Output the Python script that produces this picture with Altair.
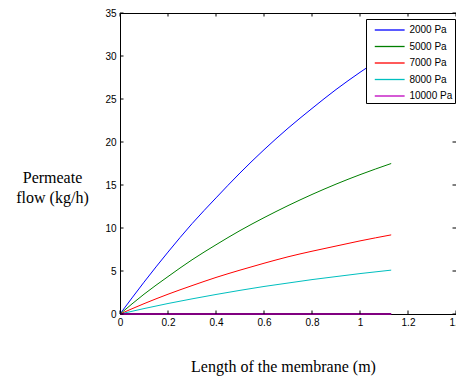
import altair as alt
import pandas as pd

# ---- data ----
length_m = [0, 0.1, 0.2, 0.3, 0.4, 0.5, 0.6, 0.7, 0.8, 0.9, 1.0, 1.13]
series_names = ["2000 Pa", "5000 Pa", "7000 Pa", "8000 Pa", "10000 Pa"]
flow_2000 = [0, 3.7, 7.2, 10.5, 13.5, 16.4, 19.1, 21.6, 23.9, 26.1, 28.1, 30.5]
flow_5000 = [0, 2.3, 4.35, 6.3, 8.05, 9.7, 11.2, 12.6, 13.9, 15.1, 16.2, 17.5]
flow_7000 = [0, 1.2, 2.3, 3.3, 4.25, 5.1, 5.9, 6.65, 7.3, 7.9, 8.5, 9.2]
flow_8000 = [0, 0.63, 1.22, 1.76, 2.27, 2.75, 3.2, 3.6, 4.0, 4.35, 4.7, 5.1]
flow_10000 = [0, 0, 0, 0, 0, 0, 0, 0, 0, 0, 0, 0]
colors = ["#0000FF", "#007F00", "#FF0000", "#00BFBF", "#BF00BF"]
x_ticks = [0, 0.2, 0.4, 0.6, 0.8, 1.0, 1.2, 1.4]
y_ticks = [0, 5, 10, 15, 20, 25, 30, 35]

rows = []
for name, vals in zip(series_names, [flow_2000, flow_5000, flow_7000, flow_8000, flow_10000]):
    for xv, yv in zip(length_m, vals):
        rows.append({"length": xv, "flow": yv, "series": name})
df = pd.DataFrame(rows)
xt = pd.DataFrame({"t": x_ticks})
yt = pd.DataFrame({"t": y_ticks})

W, H = 336, 301
xscale = alt.Scale(domain=[0, 1.4], nice=False, zero=False)
yscale = alt.Scale(domain=[0, 35], nice=False)

x_axis = alt.Axis(
    values=x_ticks, format="~g", ticks=False, grid=False, labelFlush=False, labelOverlap=False,
    labelPadding=3, labelFont="Liberation Sans", labelFontSize=10, labelColor="black",
    domainColor="black", domainWidth=1,
    title="Length of the membrane (m)", titleFont="Liberation Serif", titleFontSize=16,
    titleFontWeight="normal", titleColor="black", titleX=163, titleY=57,
    titleAlign="center", titleBaseline="alphabetic",
)
y_axis = alt.Axis(
    values=y_ticks, ticks=False, grid=False, labelFlush=False, labelOverlap=False,
    labelPadding=4, labelFont="Liberation Sans", labelFontSize=10, labelColor="black",
    domainColor="black", domainWidth=1,
    title=["Permeate", "flow (kg/h)"], titleFont="Liberation Serif", titleFontSize=16,
    titleFontWeight="normal", titleColor="black", titleAngle=0, titleX=-68, titleY=169,
    titleAlign="center", titleBaseline="alphabetic", titleLineHeight=20,
)

legend = alt.Legend(
    title=None, orient="none", legendX=246, legendY=6,
    strokeColor="black", fillColor="white", padding=2, rowPadding=2.5,
    symbolType="M-1.8,0H1.8", symbolSize=275, symbolStrokeWidth=1.3, symbolOffset=12.7,
    labelOffset=10.7, labelFont="Liberation Sans", labelFontSize=10, labelColor="black",
)

lines = alt.Chart(df).mark_line(strokeWidth=1, interpolate="monotone").encode(
    x=alt.X("length:Q", scale=xscale, axis=x_axis),
    y=alt.Y("flow:Q", scale=yscale, axis=y_axis),
    color=alt.Color("series:N", scale=alt.Scale(domain=series_names, range=colors), legend=legend),
)

base_line = alt.Chart(df).transform_filter(alt.datum.series == "10000 Pa").mark_line(
    color="#800080", strokeWidth=2
).encode(x="length:Q", y="flow:Q")

tick_len = 3.5
bottom_ticks = alt.Chart(xt).mark_rule(color="black", strokeWidth=1).encode(
    x=alt.X("t:Q"), y=alt.value(H), y2=alt.value(H - tick_len))
top_ticks = alt.Chart(xt).mark_rule(color="black", strokeWidth=1).encode(
    x=alt.X("t:Q"), y=alt.value(0), y2=alt.value(tick_len))
left_ticks = alt.Chart(yt).mark_rule(color="black", strokeWidth=1).encode(
    y=alt.Y("t:Q"), x=alt.value(0), x2=alt.value(tick_len))
right_ticks = alt.Chart(yt).mark_rule(color="black", strokeWidth=1).encode(
    y=alt.Y("t:Q"), x=alt.value(W), x2=alt.value(W - tick_len))

chart = alt.layer(lines, base_line, bottom_ticks, top_ticks, left_ticks, right_ticks).properties(
    width=W, height=H,
    autosize=alt.AutoSizeParams(type="none"),
    padding={"left": 112, "top": 5, "right": 0, "bottom": 62},
    background="white",
).configure_view(stroke="black", strokeWidth=1)

chart.save("out.html", embed_options={"renderer": "svg", "actions": False})
